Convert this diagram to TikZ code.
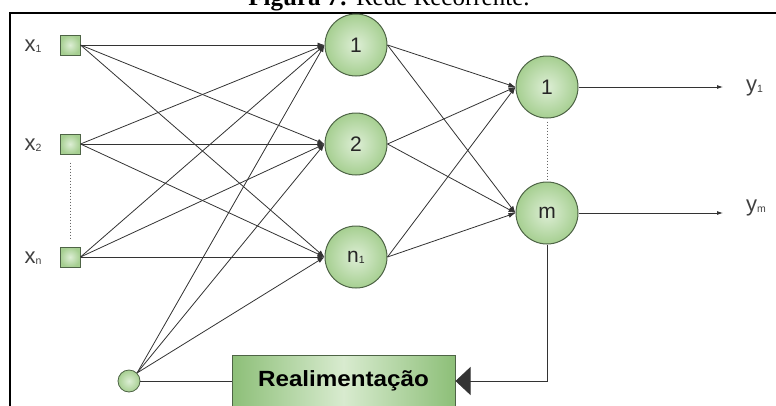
\documentclass[tikz,border=0pt]{standalone}
\usepackage{fontspec}
\setmainfont{Liberation Sans}
\newfontfamily\capfont{Liberation Serif}
\usetikzlibrary{arrows.meta}

\definecolor{edgegreen}{HTML}{4E6446}
\definecolor{lightgreen}{HTML}{DDEED5}
\definecolor{midgreen}{HTML}{A6CF91}
\definecolor{boxdark}{HTML}{8DBF78}
\definecolor{boxlight}{HTML}{D8EBCF}
\definecolor{wire}{HTML}{333333}

% subscripted variable name: x_1, y_m, ...
\newcommand{\subvar}[2]{#1{\fontsize{10.5}{10.5}\selectfont\raisebox{-1pt}{#2}}}

\begin{document}
\begin{tikzpicture}[x=1pt,y=-1pt,
  neuron/.style={circle,draw=edgegreen,line width=1pt,inner color=lightgreen,
    outer color=midgreen,minimum size=62pt,inner sep=0pt,
    font=\fontsize{21}{21}\selectfont,text=black!85},
  inbox/.style={rectangle,draw=edgegreen,line width=1pt,inner color=lightgreen,
    outer color=midgreen,minimum size=20pt,inner sep=0pt},
  biasnode/.style={circle,draw=edgegreen,line width=0.8pt,inner color=lightgreen,
    outer color=midgreen,minimum size=22pt,inner sep=0pt},
  fbbox/.style={rectangle,draw=edgegreen,line width=1pt,left color=boxdark,
    right color=boxdark,middle color=boxlight,minimum width=223pt,
    minimum height=52pt,inner sep=0pt,
    font=\bfseries\fontsize{22}{22}\selectfont},
  varlabel/.style={font=\fontsize{22}{22}\selectfont,text=black!75,inner sep=0pt},
  wiring/.style={draw=wire,line width=0.8pt,-{Latex[length=7pt,width=5pt]}},
  outwire/.style={draw=wire,line width=0.8pt,-{Latex[length=6pt,width=4pt]}},
  dotline/.style={draw=black!60,line width=1pt,dotted}]

\useasboundingbox (0,0) rectangle (776,405);
\clip (0,0) rectangle (776,405);

% caption
\node[anchor=base,inner sep=0pt,font=\capfont\fontsize{25}{25}\selectfont]
  (caption) at (389,5) {\textbf{Figura 7:} Rede Recorrente.};

% frame
\draw[line width=2pt] (776,13) -- (10,13) -- (10,406);

% input layer
\node[inbox] (x1) at (70,45) {};
\node[inbox] (x2) at (70,144) {};
\node[inbox] (xn) at (70,257) {};
\node[varlabel] (lx1) at (33,46) {\subvar{x}{1}};
\node[varlabel] (lx2) at (33,145) {\subvar{x}{2}};
\node[varlabel] (lxn) at (33,258) {\subvar{x}{n}};
\draw[dotline] ([yshift=-8pt]x2.south) -- ([yshift=7pt]xn.north);

% bias input
\node[biasnode] (bias) at (129,381) {};

% hidden layer
\node[neuron] (h1) at (356,45) {1};
\node[neuron] (h2) at (356,144) {2};
\node[neuron] (hn) at (356,257) {\subvar{n}{1}};

% output layer
\node[neuron] (o1) at (547,87) {1};
\node[neuron] (om) at (547,213) {m};
\draw[dotline] ([yshift=-3pt]o1.south) -- ([yshift=2pt]om.north);

% feedback block
\node[fbbox] (fb) at (343.5,381) {\scalebox{1.1}[1]{Realimentação}};

% input -> hidden
\foreach \i in {x1,x2,xn}
  \foreach \h in {h1,h2,hn}
    \draw[wiring] (\i.east) -- (\h.west);
\foreach \h in {h1,h2,hn}
  \draw[wiring] (bias.45) -- (\h.west);

% hidden -> output
\foreach \h in {h1,h2,hn}
  \foreach \o in {o1,om}
    \draw[wiring] (\h.east) -- (\o.west);

% outputs
\coordinate (y1end) at (723,87);
\coordinate (ymend) at (723,213);
\draw[outwire] (o1.east) -- (y1end);
\draw[outwire] (om.east) -- (ymend);
\node[varlabel,anchor=west] (ly1) at (746,88) {\subvar{y}{1}};
\node[varlabel,anchor=west] (lym) at (746,208) {\subvar{y}{m}};

% feedback loop
\draw[draw=wire,line width=0.9pt,-{Triangle[length=15pt,width=28pt]}]
  (om.south) |- (fb.east);
\draw[draw=wire,line width=0.9pt] (bias.east) -- (fb.west);
\end{tikzpicture}
\end{document}
